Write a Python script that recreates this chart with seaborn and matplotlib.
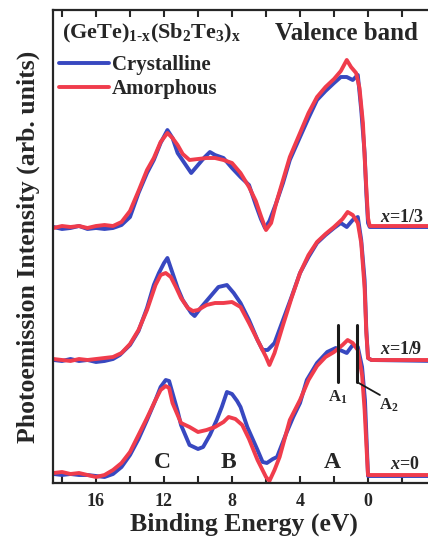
import matplotlib
matplotlib.use("Agg")
import matplotlib.pyplot as plt
import seaborn as sns

# Binding energy (eV) and stacked photoemission intensity (arb. units)
# x = 0
be_cryst_0 = [18.5, 18, 17.5, 17, 16.5, 16, 15.5, 15, 14.5, 14, 13.5, 13, 12.5, 12.2, 11.9, 11.7,
              11.5, 11.2, 11, 10.5, 10, 9.7, 9.3, 8.9, 8.6, 8.3, 8.0, 7.7, 7.5, 7.1, 6.5, 6.2,
              5.95, 5.6, 5.35, 4.8, 4.4, 4.0, 3.6, 3.0, 2.4, 1.9, 1.65, 1.25, 0.9, 0.6, 0.35,
              0.18, 0.06, 0, -0.2, -4]
int_cryst_0 = [0.9, 0.8, 0.9, 0.8, 0.8, 0.7, 0.6, 0.9, 1.6, 2.8, 4.4, 6.3, 8.3, 9.6, 10.3, 10.2,
               9.0, 7.2, 5.8, 3.8, 3.4, 3.6, 4.8, 6.3, 7.6, 9.1, 8.9, 8.2, 7.6, 5.6, 3.3, 2.1,
               2.0, 2.4, 2.6, 5.0, 6.6, 8.0, 10.3, 12.0, 13.1, 13.5, 13.3, 13.0, 13.8, 13.6, 11.6,
               8.3, 3.3, 0.7, 0.7, 0.7]
be_amor_0 = [18.5, 18, 17.5, 17, 16.5, 16, 15.5, 15, 14.5, 14, 13.5, 13, 12.5, 12.2, 11.9, 11.7,
             11.5, 11.2, 11, 10.5, 10, 9.5, 9, 8.5, 8.2, 7.8, 7.4, 7, 6.5, 6, 5.8, 5.5, 5.2, 4.6,
             4, 3.5, 3, 2.5, 2, 1.5, 1.2, 0.9, 0.6, 0.35, 0.2, 0.05, 0, -0.2, -4]
int_amor_0 = [1.0, 1.1, 0.9, 1.0, 0.8, 0.6, 0.8, 1.3, 2.0, 3.1, 4.8, 6.5, 8.3, 9.3, 9.7, 9.5,
              8.0, 6.8, 6.0, 5.6, 5.1, 5.3, 5.6, 6.1, 6.6, 6.4, 5.8, 4.4, 2.3, 0.6, 0.2, 1.3,
              2.6, 6.3, 8.3, 10.3, 11.7, 12.6, 13.1, 13.8, 14.3, 14.0, 13.3, 10.8, 7.3, 2.3,
              0.8, 0.8, 0.8]

# x = 1/9
be_cryst_1 = [18.5, 18, 17.5, 17, 16.5, 16, 15.5, 15, 14.6, 14, 13.5, 13, 12.6, 12.3, 12, 11.8,
              11.5, 11.2, 10.9, 10.4, 10.2, 9.8, 9.3, 8.8, 8.3, 7.9, 7.5, 7, 6.5, 6.2, 5.9, 5.5,
              5, 4.5, 4, 3.5, 3, 2.5, 2, 1.6, 1.25, 0.9, 0.6, 0.4, 0.2, 0.1, 0, -0.2, -4]
int_cryst_1 = [12.3, 12.2, 12.4, 12.2, 12.3, 12.1, 12.2, 12.4, 12.8, 13.8, 15.2, 17.5, 19.8, 21.0,
               22.0, 22.5, 21.0, 19.5, 18.3, 17.0, 16.7, 17.6, 18.6, 19.6, 19.8, 19.0, 18.0, 16.3,
               14.3, 13.3, 13.3, 14.0, 16.3, 18.6, 21.0, 22.6, 24.0, 24.8, 25.5, 26.0, 25.6,
               26.3, 26.6, 24.3, 20.3, 15.3, 12.5, 12.3, 12.2]
be_amor_1 = [18.5, 18, 17.5, 17, 16.5, 16, 15.5, 15, 14.5, 14, 13.5, 13, 12.5, 12.2, 11.9, 11.6,
             11.3, 11, 10.6, 10.3, 10, 9.5, 9, 8.5, 8, 7.5, 7, 6.5, 6, 5.8, 5.5, 5, 4.5, 4, 3.5,
             3, 2.5, 2, 1.5, 1.2, 0.9, 0.6, 0.4, 0.2, 0.1, 0, -0.2, -4]
int_amor_1 = [12.4, 12.3, 12.2, 12.4, 12.3, 12.4, 12.5, 12.6, 13.0, 13.9, 15.3, 17.3, 19.8, 20.8,
              21.0, 20.6, 19.6, 18.5, 17.5, 17.2, 17.3, 17.8, 18.0, 18.0, 18.1, 17.6, 16.0, 14.3,
              12.6, 11.8, 13.0, 15.8, 18.5, 21.0, 22.8, 24.1, 24.9, 25.6, 26.4, 27.1, 26.8, 26.0,
              24.0, 19.5, 15.0, 12.5, 12.3, 12.3]

# x = 1/3
be_cryst_2 = [18.5, 18, 17.5, 17, 16.5, 16, 15.5, 15, 14.5, 14, 13.5, 13, 12.6, 12.2, 11.8, 11.5,
              11.2, 10.8, 10.4, 10, 9.6, 9.3, 9, 8.5, 8, 7.5, 7, 6.6, 6.3, 6.06, 5.8, 5.4, 5, 4.6,
              4, 3.5, 3, 2.5, 2, 1.6, 1.25, 0.9, 0.6, 0.4, 0.2, 0.1, 0, -0.1, -4]
int_cryst_2 = [25.6, 25.4, 25.5, 25.7, 25.4, 25.5, 25.4, 25.5, 25.8, 26.6, 29.0, 31.0, 32.3, 34.0,
               35.3, 34.5, 33.0, 32.0, 31.0, 31.8, 32.6, 33.1, 32.8, 32.5, 31.5, 30.6, 29.8, 27.8,
               26.4, 25.5, 26.2, 28.0, 30.0, 32.3, 34.6, 36.5, 38.3, 39.2, 40.0, 40.6, 40.6, 40.3,
               40.8, 37.3, 33.0, 29.0, 26.0, 25.6, 25.6]
be_amor_2 = [18.5, 18, 17.5, 17, 16.5, 16, 15.5, 15, 14.5, 14, 13.5, 13, 12.6, 12.2, 11.8, 11.5,
             11.2, 10.9, 10.5, 10, 9.5, 9, 8.5, 8, 7.5, 7, 6.6, 6.3, 6, 5.7, 5.4, 5, 4.6, 4, 3.5,
             3, 2.5, 2, 1.6, 1.25, 1.0, 0.7, 0.5, 0.3, 0.15, 0, -0.1, -4]
int_amor_2 = [25.5, 25.7, 25.6, 25.7, 25.5, 25.7, 25.8, 25.7, 26.1, 27.2, 29.2, 31.3, 32.5, 34.1,
              35.0, 34.5, 33.8, 32.9, 32.3, 32.4, 32.5, 32.5, 32.3, 32.0, 31.0, 29.6, 28.2, 26.7,
              25.3, 26.0, 28.0, 30.3, 32.6, 35.0, 37.0, 38.6, 39.6, 40.4, 41.2, 42.3, 41.6, 41.0,
              39.5, 36.0, 31.0, 26.5, 25.7, 25.7]

compositions = ["$\\mathit{x}$=0", "$\\mathit{x}$=1/9", "$\\mathit{x}$=1/3"]
baselines = [0.8, 12.3, 25.5]
tag_positions = [-1.3, -0.7, -0.7]
band_labels = ["C", "B", "A"]
band_positions = [12.1, 8.2, 2.1]
peak_labels = ["A$_1$", "A$_2$"]
peak_positions = [1.76, 0.65]
phase_names = ["Crystalline", "Amorphous"]

BLUE = "#3848c0"
RED = "#f03c4c"
INK = "#262626"

sns.set_style("ticks")
plt.rcParams["font.family"] = ["Liberation Serif", "DejaVu Serif"]
plt.rcParams["font.weight"] = "bold"
plt.rcParams["axes.labelweight"] = "bold"
plt.rcParams["mathtext.fontset"] = "custom"
plt.rcParams["mathtext.rm"] = "Liberation Serif:bold"
plt.rcParams["mathtext.it"] = "Liberation Serif:italic:bold"
plt.rcParams["mathtext.bf"] = "Liberation Serif:bold"
plt.rcParams["text.color"] = INK

W, H = 428, 543
fig = plt.figure(figsize=(W / 100, H / 100), dpi=100)
ax = fig.add_axes([53 / W, 60 / H, 382 / W, 473 / H])

cryst = [(be_cryst_0, int_cryst_0), (be_cryst_1, int_cryst_1), (be_cryst_2, int_cryst_2)]
amor = [(be_amor_0, int_amor_0), (be_amor_1, int_amor_1), (be_amor_2, int_amor_2)]

handles = []
for i in range(3):
    for (be, inten), col in ((cryst[i], BLUE), (amor[i], RED)):
        sns.lineplot(x=be, y=inten, ax=ax, color=col, lw=2.8, sort=False,
                     estimator=None, legend=False)
        if i == 0:
            handles.append(ax.lines[-1])

ax.set_xlim(18.53, -3.94)
ax.set_ylim(0, 47.3)
ax.set_xticks([16, 12, 8, 4, 0])
ax.set_xticks([18, 14, 10, 6, 2, -2], minor=True)
ax.set_yticks([])
ax.tick_params(which="both", direction="in", top=True, bottom=True, length=5,
               width=1.5, color=INK, labelsize=13, pad=7, labelcolor=INK)
for s in ax.spines.values():
    s.set_linewidth(1.6)
    s.set_color(INK)

ax.set_xlabel("Binding Energy (eV)", fontsize=18.5, fontweight="bold", labelpad=2, color=INK)
ax.set_ylabel("Photoemission Intensity (arb. units)", fontsize=18.5, fontweight="bold",
              labelpad=9, color=INK)

# headings
ax.text(18.0, 45.0, "$\\mathrm{(GeTe)_{1\\text{-}x}(Sb_2Te_3)_x}$", fontsize=16,
        va="center", ha="left")
ax.text(5.47, 45.0, "Valence band", fontsize=18, va="center", ha="left")

# composition tags sitting on each baseline
for tag, base, pos in zip(compositions, baselines, tag_positions):
    ax.text(pos, base + 0.6, tag, fontsize=13, va="baseline", ha="left")

# band markers
for lab, pos in zip(band_labels, band_positions):
    ax.text(pos, 2.0, lab, fontsize=17, ha="center", va="center")

# A1 / A2 sub-peak markers
for pos in peak_positions:
    ax.plot([pos, pos], [10.1, 15.8], color="#1a1a1a", lw=2.2)
ax.plot([peak_positions[1], -0.7], [10.1, 8.8], color="#1a1a1a", lw=1.3)
ax.text(1.76, 8.6, peak_labels[0], fontsize=12, ha="center", va="center")
ax.text(-1.2, 7.8, peak_labels[1], fontsize=12, ha="center", va="center")

ax.legend(handles=handles, labels=phase_names, loc="upper left",
          bbox_to_anchor=(0.015, 0.905), frameon=False, fontsize=15,
          handlelength=2.4, handletextpad=0.15, labelspacing=0.2,
          borderpad=0, borderaxespad=0)

fig.savefig("out.png", dpi=100)
